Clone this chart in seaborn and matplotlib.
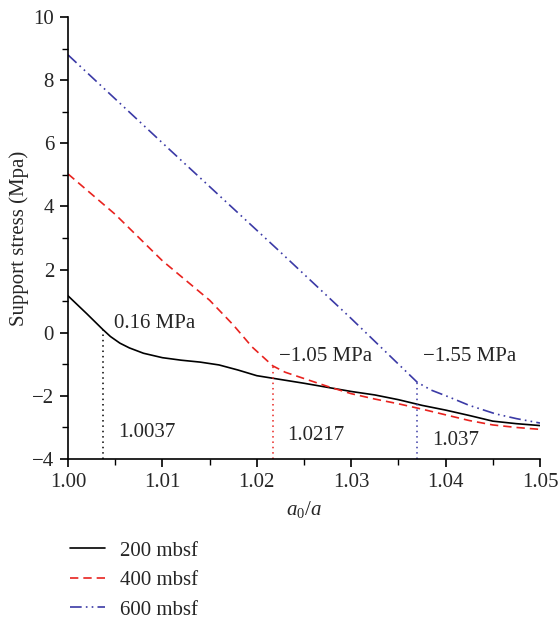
import matplotlib
matplotlib.use("Agg")
import matplotlib.pyplot as plt
import seaborn as sns
import pandas as pd
from matplotlib.ticker import MultipleLocator

# data
x200 = [1.000, 1.002, 1.0037, 1.0045, 1.0055, 1.0065, 1.008, 1.010, 1.012, 1.014,
        1.016, 1.018, 1.020, 1.0225, 1.025, 1.0275, 1.030, 1.0325, 1.035, 1.0375,
        1.040, 1.0425, 1.045, 1.0475, 1.050]
y200 = [1.17, 0.60, 0.10, -0.12, -0.33, -0.48, -0.65, -0.79, -0.87, -0.93,
        -1.02, -1.18, -1.36, -1.48, -1.60, -1.73, -1.86, -1.97, -2.12, -2.30,
        -2.45, -2.62, -2.80, -2.88, -2.94]
x400 = [1.000, 1.005, 1.010, 1.015, 1.0175, 1.0195, 1.0217, 1.023, 1.025, 1.0275,
        1.030, 1.0325, 1.035, 1.0375, 1.040, 1.0425, 1.045, 1.0475, 1.050]
y400 = [5.03, 3.75, 2.28, 1.03, 0.25, -0.45, -1.05, -1.25, -1.45, -1.70,
        -1.93, -2.10, -2.25, -2.42, -2.60, -2.78, -2.92, -3.00, -3.06]
x600 = [1.000, 1.0108, 1.0223, 1.030, 1.037, 1.0385, 1.0404, 1.0425, 1.0453,
        1.0475, 1.050]
y600 = [8.80, 5.79, 2.61, 0.45, -1.57, -1.82, -2.04, -2.30, -2.57, -2.72, -2.86]
series_names = ["200 mbsf", "400 mbsf", "600 mbsf"]

crit_x = [1.0037, 1.0217, 1.037]
crit_y = [0.10, -1.05, -1.57]
stress_labels = ["0.16 MPa", "\u22121.05 MPa", "\u22121.55 MPa"]
crit_labels = ["1.0037", "1.0217", "1.037"]

sns.set_theme(style="ticks")
plt.rcParams["font.family"] = ["Liberation Serif", "DejaVu Serif"]
plt.rcParams["mathtext.fontset"] = "custom"
plt.rcParams["mathtext.it"] = "Liberation Serif:italic"
plt.rcParams["mathtext.rm"] = "Liberation Serif"

fig = plt.figure(figsize=(5.59, 6.22), dpi=100)
ax = fig.add_axes([0.1216, 0.262, 0.8444, 0.7107])

colors = ["#000000", "#e8231f", "#3b3aa6"]
styles = ["-", (0, (5, 3)), (0, (7, 2.5, 1, 2.5, 1, 2.5))]
xs = [x200, x400, x600]
ys = [y200, y400, y600]
for xv, yv, name, c, ls in zip(xs, ys, series_names, colors, styles):
    df = pd.DataFrame({"x": xv, "y": yv})
    sns.lineplot(data=df, x="x", y="y", ax=ax, color=c, linestyle=ls,
                 linewidth=1.2, label=name, estimator=None)

for cx, cy, c in zip(crit_x, crit_y, colors):
    ax.plot([cx, cx], [-4, cy], linestyle=(0, (1, 2.5)), color=c, linewidth=1.1)

fs = 15
stress_pos = [(1.0049, 0.3), (1.0224, -0.75), (1.0376, -0.75)]
crit_pos = [(1.0053, -3.15), (1.0232, -3.25), (1.0386, -3.4)]
for (px, py), t in zip(stress_pos, stress_labels):
    ax.text(px, py, t, fontsize=fs, va="center", ha="left")
for (px, py), t in zip(crit_pos, crit_labels):
    ax.text(px, py, t, fontsize=fs, va="center", ha="left")

ax.set_xlim(1.0, 1.05)
ax.set_ylim(-4, 10)
ax.xaxis.set_major_locator(MultipleLocator(0.01))
ax.xaxis.set_minor_locator(MultipleLocator(0.005))
ax.yaxis.set_major_locator(MultipleLocator(2))
ax.yaxis.set_minor_locator(MultipleLocator(1))
ax.xaxis.set_major_formatter(matplotlib.ticker.FormatStrFormatter("%.2f"))
ax.tick_params(axis="both", which="major", length=6, width=1.2, labelsize=fs,
               direction="out", color="black", pad=4)
ax.tick_params(axis="both", which="minor", length=4, width=1.0, direction="out",
               color="black")
for s in ["top", "right"]:
    ax.spines[s].set_visible(False)
for s in ["left", "bottom"]:
    ax.spines[s].set_linewidth(1.2)
    ax.spines[s].set_color("black")

ax.set_xlabel("$a_0/a$", fontsize=fs, labelpad=5)
ax.set_ylabel("Support stress (Mpa)", fontsize=fs, labelpad=2)

leg = ax.legend(loc="upper left", bbox_to_anchor=(70 / 559, 1 - 541 / 622),
                bbox_transform=fig.transFigure, frameon=False,
                fontsize=fs, handlelength=1.7, handletextpad=0.7,
                labelspacing=0.48, borderaxespad=0, borderpad=0)

fig.savefig("out.png", dpi=100)
